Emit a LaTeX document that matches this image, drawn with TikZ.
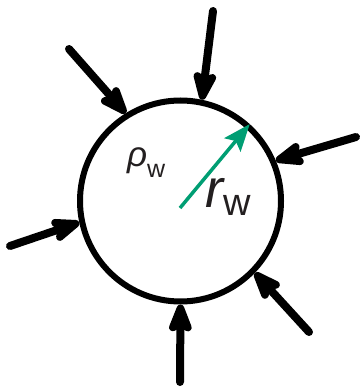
\documentclass[tikz,border=0pt]{standalone}
\usepackage{fontspec}
\setmainfont{Liberation Sans}
\usetikzlibrary{arrows.meta}
\definecolor{rgreen}{RGB}{0,158,115}
\definecolor{txt}{RGB}{35,31,32}
\begin{document}
\begin{tikzpicture}[x=1pt,y=1pt,
  inflow/.style={line width=8pt, line cap=round, -{Stealth[length=37pt,width=28pt,inset=7pt,round]}},
  radarrow/.style={rgreen, line width=3.5pt, -{Stealth[length=27pt,width=21pt,inset=5pt]}},
  lbl/.style={anchor=base west, inner sep=0pt, text=txt}]
\useasboundingbox (0,0) rectangle (361,-387);
\node[circle, draw, line width=6pt, minimum size=201pt, inner sep=0pt] (c) at (180.5,-201) {};
\coordinate (s1) at (213,-11);
\coordinate (s2) at (69,-49);
\coordinate (s3) at (356,-137);
\coordinate (s4) at (10,-246);
\coordinate (s5) at (309,-332);
\coordinate (s6) at (180,-382);
\draw[inflow] (s1) -- (c.78);
\draw[inflow] (s2) -- (c.122);
\draw[inflow] (s3) -- (c.23);
\draw[inflow] (s4) -- (c.192);
\draw[inflow] (s5) -- (c.-44);
\draw[inflow] (s6) -- (c.-90);
\coordinate (o) at (180,-208);
\draw[radarrow] (o) -- (c.48);
\node[lbl] (rho) at (127,-167) {\fontsize{35}{35}\selectfont\itshape ρ\raisebox{-11pt}{\upshape\fontsize{25}{25}\selectfont w}};
\node[lbl] (rw) at (205,-207) {\fontsize{54}{54}\selectfont\itshape r\raisebox{-8pt}{\upshape\fontsize{38}{38}\selectfont w}};
\end{tikzpicture}
\end{document}
